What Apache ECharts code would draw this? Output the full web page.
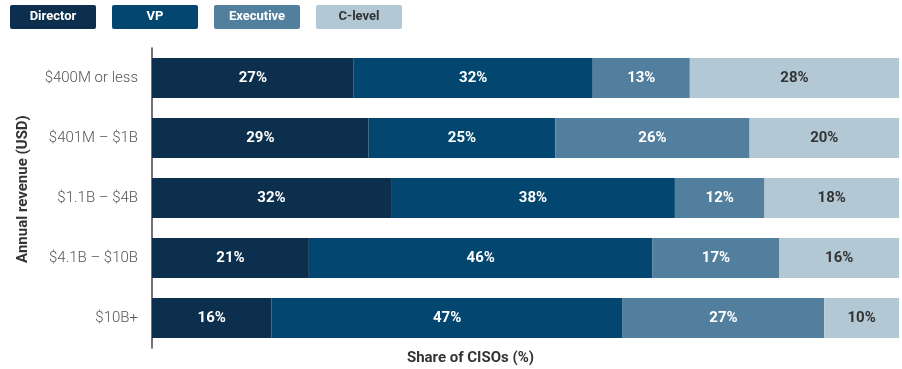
<!DOCTYPE html>
<html><head><meta charset="utf-8">
<script src="https://cdn.jsdelivr.net/npm/echarts@6/dist/echarts.min.js"></script>
<style>html,body{margin:0;padding:0;background:#fff}#c{width:902px;height:369px}</style>
</head><body><div id="c"></div>
<script>
const categories = ['$400M or less', '$401M – $1B', '$1.1B – $4B', '$4.1B – $10B', '$10B+'];
const seriesNames = ['Director', 'VP', 'Executive', 'C-level'];
const director = [27, 29, 32, 21, 16];
const vp = [32, 25, 38, 46, 47];
const executive = [13, 26, 12, 17, 27];
const clevel = [28, 20, 18, 16, 10];
const values = [director, vp, executive, clevel];
const colors = ['#0b2f4c', '#034670', '#527f9d', '#b3c8d5'];
const labelColors = ['#ffffff', '#ffffff', '#ffffff', '#333333'];

const chart = echarts.init(document.getElementById('c'), null, {renderer: 'canvas'});
const font = 'Roboto, "Noto Sans", sans-serif';

const graphics = [];
seriesNames.forEach((n, i) => {
  graphics.push({
    type: 'group', left: 10 + i * 102, top: 5,
    children: [
      {type: 'rect', shape: {x: 0, y: 0, width: 86, height: 24, r: 2}, style: {fill: colors[i]}},
      {type: 'text', x: 43, y: 12, style: {text: n, fill: labelColors[i], font: 'bold 13px ' + font, align: 'center', verticalAlign: 'middle'}}
    ]
  });
});

chart.setOption({
  animation: false,
  textStyle: {fontFamily: font},
  grid: {left: 152, right: 3, top: 48, bottom: 21, containLabel: false, outerBoundsMode: 'none'},
  xAxis: {
    type: 'value', min: 0, max: 100, show: true,
    axisLine: {show: false}, axisTick: {show: false}, axisLabel: {show: false}, splitLine: {show: false},
    name: 'Share of CISOs (%)', nameLocation: 'middle', nameGap: 3,
    nameTextStyle: {fontSize: 15, fontWeight: 'bold', color: '#333', padding: [0, 110, 0, 0], fontFamily: font}
  },
  yAxis: {
    type: 'category', data: categories, inverse: true,
    axisLine: {show: true, lineStyle: {color: '#444', width: 1.5}},
    axisTick: {show: false},
    axisLabel: {fontSize: 15, color: '#555', margin: 14, fontFamily: font, fontWeight: 300},
    name: 'Annual revenue (USD)', nameLocation: 'middle', nameGap: 121, nameRotate: 90,
    nameTextStyle: {fontSize: 15, fontWeight: 'bold', color: '#333', fontFamily: font, padding: [0, 0, 0, 18]}
  },
  series: seriesNames.map((n, i) => ({
    type: 'bar', name: n, stack: 'total', data: values[i], barWidth: 40,
    itemStyle: {color: colors[i]},
    label: {show: true, position: 'inside', formatter: '{c}%', color: labelColors[i], fontSize: 15, fontWeight: 'bold', fontFamily: font}
  })),
  graphic: graphics
});
</script></body></html>
